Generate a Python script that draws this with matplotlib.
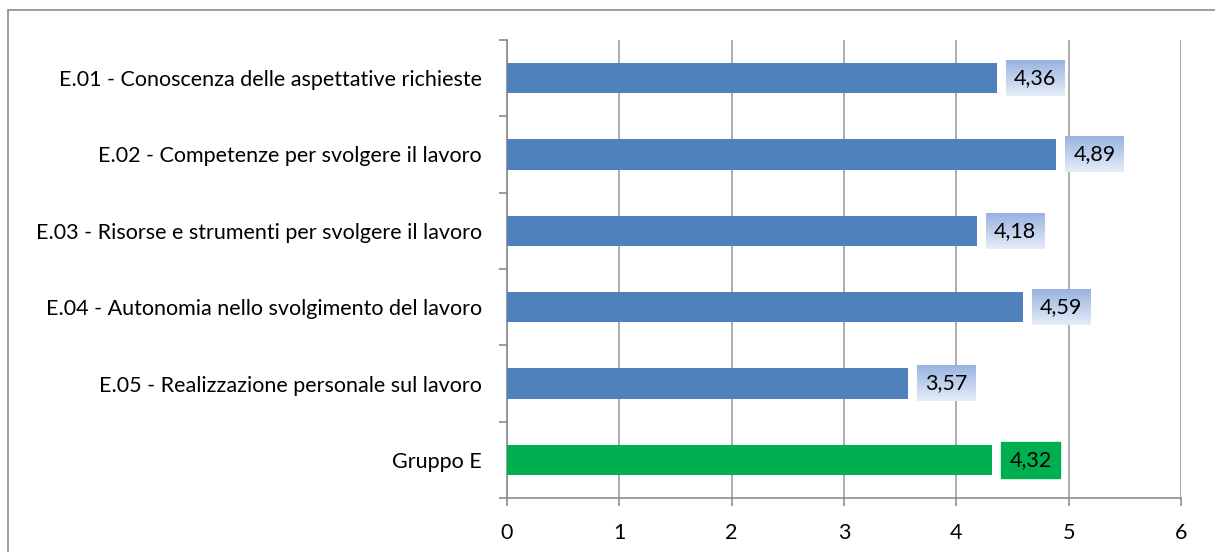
import numpy as np
import matplotlib
matplotlib.use("Agg")
import matplotlib.pyplot as plt
from matplotlib.patches import Rectangle

# punteggi medi per domanda e media del gruppo
categorie = [
    "E.01 - Conoscenza delle aspettative richieste",
    "E.02 - Competenze per svolgere il lavoro",
    "E.03 - Risorse e strumenti per svolgere il lavoro",
    "E.04 - Autonomia nello svolgimento del lavoro",
    "E.05 - Realizzazione personale sul lavoro",
    "Gruppo E",
]
valori = [4.36, 4.89, 4.18, 4.59, 3.57, 4.32]
colori = ["#4F81BD"] * 5 + ["#00B050"]

plt.rcParams["font.family"] = ["Lato", "DejaVu Sans"]
FS = 15.5

fig = plt.figure(figsize=(12.15, 5.52), dpi=100)
ax = fig.add_axes([507 / 1215, 1 - 498 / 552, (1181 - 507) / 1215, (498 - 40) / 552])

# cornice esterna del grafico
fig.patches.append(Rectangle((8 / 1215, -0.1), 1.1, 1 - 10 / 552 + 0.1,
                             transform=fig.transFigure, fill=False,
                             edgecolor="#8c8c8c", linewidth=1.2))

y = np.arange(len(categorie))
ax.barh(y, valori, height=0.4, color=colori, zorder=3)

# etichette con sfondo sfumato
grad = np.linspace(0, 1, 64).reshape(-1, 1)
top = np.array([0.60, 0.70, 0.88])
bot = np.array([0.90, 0.93, 0.97])
img = top + (bot - top) * grad[..., None]
img = img.reshape(64, 1, 3)
for i, v in enumerate(valori):
    x0, x1 = v + 0.08, v + 0.60
    y0, y1 = i - 0.235, i + 0.235
    if i == len(valori) - 1:
        ax.add_patch(Rectangle((x0, y0), x1 - x0, y1 - y0, color="#00B050", zorder=4))
    else:
        ax.imshow(img, extent=[x0, x1, y1, y0], aspect="auto", zorder=4,
                  interpolation="bilinear")
    ax.text((x0 + x1) / 2, i, f"{v:.2f}".replace(".", ","), ha="center", va="center",
            fontsize=FS, color="black", zorder=5)

ax.set_xlim(0, 6)
ax.set_ylim(len(categorie) - 0.5, -0.5)
ax.set_xticks(range(7))
ax.set_xticklabels([str(i) for i in range(7)], fontsize=FS)
ax.set_yticks(y)
ax.set_yticklabels(categorie, fontsize=FS)
ax.set_yticks(np.arange(-0.5, len(categorie) + 0.5, 1), minor=True)
ax.tick_params(axis="y", which="major", length=0, pad=18)
ax.tick_params(axis="y", which="minor", length=6, color="#8c8c8c", width=1.2)
ax.tick_params(axis="x", length=6, color="#8c8c8c", width=1.2, pad=12)

ax.grid(axis="x", color="#a0a0a0", linewidth=1.2, zorder=0)
for s in ["top", "right"]:
    ax.spines[s].set_visible(False)
for s in ["left", "bottom"]:
    ax.spines[s].set_color("#8c8c8c")
    ax.spines[s].set_linewidth(1.2)

fig.savefig("out.png", dpi=100)
